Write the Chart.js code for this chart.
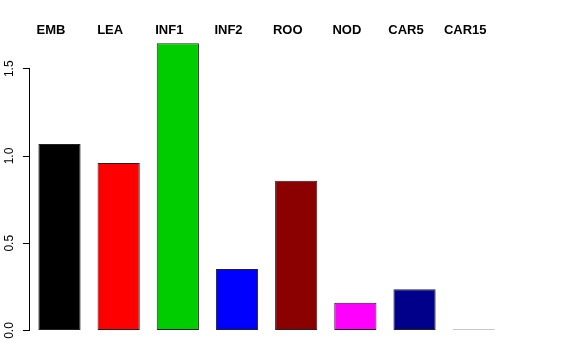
<!DOCTYPE html>
<html lang="en">
<head>
<meta charset="UTF-8" />
<title>Bar chart</title>
<script src="https://cdn.jsdelivr.net/npm/chart.js"></script>
<style>
  html, body { margin: 0; padding: 0; background: #fff; }
  #wrap { width: 576px; height: 360px; }
</style>
</head>
<body>
<div id="wrap"><canvas id="chart"></canvas></div>
<script>
const categories = ["EMB", "LEA", "INF1", "INF2", "ROO", "NOD", "CAR5", "CAR15"];
const values = [1.069, 0.96, 1.646, 0.352, 0.858, 0.159, 0.236, 0.006];
// CAR15 is almost zero, only its outline shows, so its fill is a dark grey
const barColors = ["#000000", "#FF0000", "#00CD00", "#0000FF", "#8B0000", "#FF00FF", "#00008B", "#444444"];
const yTicks = [0, 0.5, 1.0, 1.5];

const font = '"Liberation Sans", Arial, Helvetica, sans-serif';

new Chart(document.getElementById("chart"), {
  type: "bar",
  data: {
    labels: categories,
    datasets: [{
      data: values,
      backgroundColor: barColors,
      borderColor: "#222",
      borderWidth: 1,
      borderSkipped: false,
      barPercentage: 0.713,
      categoryPercentage: 1,
      clip: false, // INF1 goes above the top of the axis
    }],
  },
  options: {
    responsive: true,
    maintainAspectRatio: false,
    animation: false,
    layout: { padding: { top: 0, left: 0, right: 72.7, bottom: 29.5 } },
    plugins: { legend: { display: false }, tooltip: { enabled: false } },
    scales: {
      x: {
        position: "top",
        grid: { display: false },
        border: { display: false },
        ticks: {
          color: "#000",
          font: { family: font, size: 13, weight: "bold" },
          padding: 23,
          labelOffset: -8.5,
          maxRotation: 0,
        },
        afterFit: (s) => { s.height = 68.75; },
      },
      y: {
        min: 0,
        max: 1.5,
        afterBuildTicks: (s) => { s.ticks = yTicks.map((v) => ({ value: v })); },
        ticks: {
          color: "#000",
          font: { family: font, size: 12 },
          minRotation: 90,
          maxRotation: 90,
          crossAlign: "center",
          padding: 5,
          callback: (v) => Number(v).toFixed(1),
        },
        grid: { drawOnChartArea: false, tickLength: 7, color: "#000" },
        border: { color: "#000" },
        afterFit: (s) => { s.width = 29.9; },
      },
    },
  },
});
</script>
</body>
</html>
